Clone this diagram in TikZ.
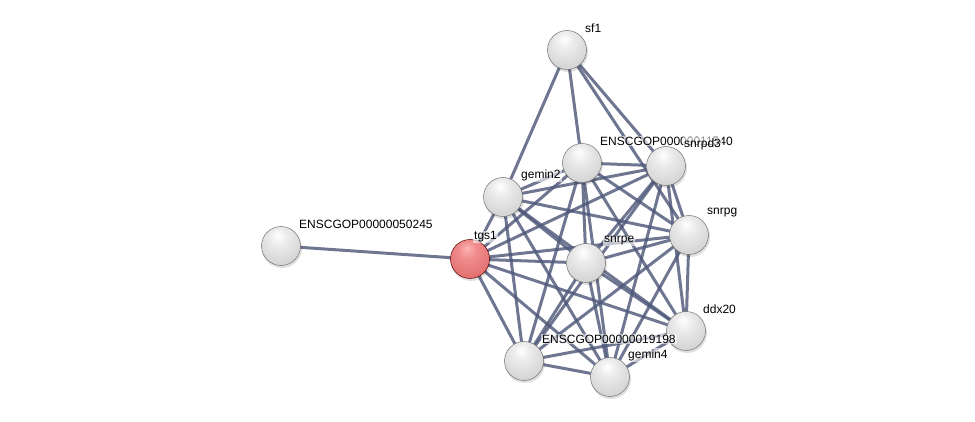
\documentclass[tikz,border=0pt]{standalone}
\usepackage{fontspec}
\setmainfont{Liberation Sans}
\pgfdeclareradialshading{graysphere}{\pgfpoint{-4bp}{14bp}}{%
  color(0bp)=(white); color(12bp)=(white!92!black); color(34bp)=(white!82!black);
  color(50bp)=(white!70!black); color(60bp)=(white!50!black); color(70bp)=(white!50!black)}
\pgfdeclareradialshading{redsphere}{\pgfpoint{-4bp}{14bp}}{%
  color(0bp)=(white!70!red); color(12bp)=(rgb,255:red,240;green,140;blue,140);
  color(34bp)=(rgb,255:red,225;green,108;blue,108);
  color(50bp)=(rgb,255:red,195;green,75;blue,75); color(60bp)=(rgb,255:red,140;green,35;blue,35);
  color(70bp)=(rgb,255:red,140;green,35;blue,35)}
\definecolor{edgecol}{RGB}{78,88,122}
\tikzset{
  prot/.style={circle, minimum size=39pt, inner sep=0pt, shading=graysphere, draw=white!45!black, line width=0.5pt},
  redprot/.style={prot, shading=redsphere, draw=red!35!black},
  link/.style={draw=edgecol, line width=3pt, opacity=0.82},
  lab/.style={anchor=west, font=\fontsize{12}{14}\selectfont, inner sep=1pt, fill=white, fill opacity=0.6, text opacity=1},
  shad/.style={circle, minimum size=40pt, inner sep=0pt, fill=black, opacity=0.12}
}
\begin{document}
\begin{tikzpicture}[x=1pt,y=-1pt]
\useasboundingbox (0,0) rectangle (975,422);
% positions
\coordinate (psf1) at (567,50);
\coordinate (pe11540) at (582,163);
\coordinate (psnrpd3) at (666,166);
\coordinate (pgemin2) at (503,197);
\coordinate (psnrpg) at (689,235);
\coordinate (pe50245) at (281,246);
\coordinate (ptgs1) at (470,259);
\coordinate (psnrpe) at (586,263);
\coordinate (pddx20) at (686,331);
\coordinate (pe19198) at (524,361);
\coordinate (pgemin4) at (610,377);
% edges
\foreach \a/\b in {sf1/gemin2, sf1/e11540, sf1/snrpd3, sf1/snrpg, e50245/tgs1,
  tgs1/gemin2, tgs1/e11540, tgs1/snrpd3, tgs1/snrpg, tgs1/snrpe, tgs1/ddx20, tgs1/e19198, tgs1/gemin4,
  gemin2/e11540, gemin2/snrpd3, gemin2/snrpg, gemin2/snrpe, gemin2/ddx20, gemin2/e19198, gemin2/gemin4,
  e11540/snrpd3, e11540/snrpg, e11540/snrpe, e11540/ddx20, e11540/e19198, e11540/gemin4,
  snrpd3/snrpg, snrpd3/snrpe, snrpd3/ddx20, snrpd3/e19198, snrpd3/gemin4,
  snrpg/snrpe, snrpg/ddx20, snrpg/e19198, snrpg/gemin4,
  snrpe/ddx20, snrpe/e19198, snrpe/gemin4,
  ddx20/e19198, ddx20/gemin4, e19198/gemin4}
  \path[link] (p\a) -- (p\b);
% shadows
\foreach \n in {sf1,e11540,snrpd3,gemin2,snrpg,e50245,tgs1,snrpe,ddx20,e19198,gemin4}
  \node[shad] at ([shift={(1,2)}]p\n) {};
% nodes
\node[prot] (sf1) at (psf1) {};
\node[prot] (e11540) at (pe11540) {};
\node[prot] (snrpd3) at (psnrpd3) {};
\node[prot] (gemin2) at (pgemin2) {};
\node[prot] (snrpg) at (psnrpg) {};
\node[prot] (e50245) at (pe50245) {};
\node[redprot] (tgs1) at (ptgs1) {};
\node[prot] (snrpe) at (psnrpe) {};
\node[prot] (ddx20) at (pddx20) {};
\node[prot] (e19198) at (pe19198) {};
\node[prot] (gemin4) at (pgemin4) {};
% labels
\node[lab] (lsf1) at ([shift={(17,-22)}]sf1.center) {sf1};
\node[lab] (le11540) at ([shift={(17,-22)}]e11540.center) {ENSCGOP00000011540};
\node[lab] (lsnrpd3) at ([shift={(17,-22)}]snrpd3.center) {snrpd3};
\node[lab] (lgemin2) at ([shift={(17,-22)}]gemin2.center) {gemin2};
\node[lab] (lsnrpg) at ([shift={(17,-22)}]snrpg.center) {snrpg};
\node[lab] (le50245) at ([shift={(17,-22)}]e50245.center) {ENSCGOP00000050245};
\node[lab] (ltgs1) at ([shift={(3,-22)}]tgs1.center) {tgs1};
\node[lab] (lsnrpe) at ([shift={(17,-22)}]snrpe.center) {snrpe};
\node[lab] (lddx20) at ([shift={(16,-22)}]ddx20.center) {ddx20};
\node[lab] (le19198) at ([shift={(17,-22)}]e19198.center) {ENSCGOP00000019198};
\node[lab] (lgemin4) at ([shift={(17,-22)}]gemin4.center) {gemin4};
\end{tikzpicture}
\end{document}
